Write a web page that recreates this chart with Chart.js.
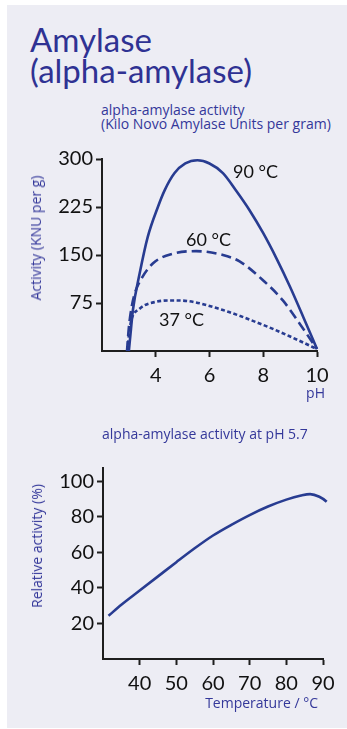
<!DOCTYPE html>
<html>
<head>
<meta charset="utf-8">
<title>Amylase</title>
<script src="https://cdn.jsdelivr.net/npm/chart.js@4.4.1/dist/chart.umd.min.js"></script>
<style>
  body { margin: 0; background: #fff; width: 347px; height: 729px; position: relative; overflow: hidden; font-family: "Open Sans", sans-serif; }
  .panel { position: absolute; left: 7px; top: 5px; width: 340px; height: 723px; background: #ededf4; }
  .txt { position: absolute; white-space: nowrap; color: #34389a; }
  h1 { position: absolute; left: 30px; top: 24px; margin: 0; font-family: Lato, sans-serif; font-weight: 400; font-size: 33px; line-height: 31px; color: #2f3293; }
  .sub { font-size: 14px; line-height: 14px; }
  .ytitle { font-size: 14px; line-height: 14px; transform: translate(-50%, -50%) rotate(-90deg); }
  .curve { font-family: Lato, sans-serif; font-size: 18px; line-height: 18px; color: #111; }
  canvas { position: absolute; left: 0; }
</style>
</head>
<body>
<div class="panel"></div>
<h1>Amylase<br>(alpha-amylase)</h1>
<div class="txt sub" style="left:101px; top:103px;">alpha-amylase activity<br>(Kilo Novo Amylase Units per gram)</div>

<canvas id="phChart" width="347" height="270" style="top:140px"></canvas>
<div class="txt ytitle" style="left:36px; top:238px;">Activity (KNU per g)</div>
<div class="txt sub" style="right:22px; top:386px;">pH</div>
<div class="txt curve" style="left:233px; top:162px;">90 °C</div>
<div class="txt curve" style="left:186px; top:230px;">60 °C</div>
<div class="txt curve" style="left:159px; top:310px;">37 °C</div>

<div class="txt sub" style="left:102px; top:427px;">alpha-amylase activity at pH 5.7</div>
<canvas id="tempChart" width="347" height="319" style="top:410px"></canvas>
<div class="txt ytitle" style="left:37px; top:546px;">Relative activity (%)</div>
<div class="txt sub" style="right:29px; top:696px;">Temperature / °C</div>

<script>
// activity vs pH (KNU per g)
const ph90  = [3.0, 3.08, 3.15, 3.4, 3.7, 4.08, 4.33, 4.7, 5.1, 5.55, 6.0, 6.5, 7.0, 7.49, 8.0, 8.5, 9.0, 9.5, 10.0];
const act90 = [0, 35, 64, 121, 178, 225, 251, 278, 293, 298, 293, 278, 250, 220, 184, 144, 100, 52, 3];

const ph60  = [2.93, 3.0, 3.1, 3.22, 3.4, 3.9, 4.64, 5.5, 6.5, 7.12, 7.98, 8.73, 9.35, 10.0];
const act60 = [0, 37, 68, 90, 108, 137, 152, 156, 150, 140, 111, 79, 43, 3];

const ph37  = [2.95, 3.0, 3.09, 3.4, 4.02, 4.64, 5.2, 6.5, 7.12, 7.74, 8.36, 8.98, 9.5, 10.0];
const act37 = [0, 25, 48, 66, 77, 79, 78, 64, 55, 45, 34.5, 23, 13, 3];

const phTicks  = [4, 6, 8, 10];
const actTicks = [75, 150, 225, 300];

// relative activity vs temperature at pH 5.7
const tempC  = [31.5, 35, 40, 45, 50, 55, 60, 65, 70, 75, 80, 84, 86.5, 89, 91, 92];
const relAct = [24.3, 30.5, 38.5, 46.5, 54.5, 62.3, 69.5, 75.5, 81, 85.8, 89.7, 92, 92.8, 91.3, 88.5, 85.9];

const tempTicks = [40, 50, 60, 70, 80, 90];
const relTicks  = [20, 40, 60, 80, 100];

const blue = '#283c91';
const ink = '#1e1e1e';

function pts(xs, ys) {
  return xs.map((x, i) => ({ x: x, y: ys[i] }));
}

function line(data, dash) {
  return {
    data: data,
    borderColor: blue,
    borderWidth: 2.6,
    borderDash: dash,
    pointRadius: 0,
    cubicInterpolationMode: 'monotone',
    fill: false,
    clip: false
  };
}

function axis(min, max, tickList, extra) {
  return Object.assign({
    type: 'linear',
    min: min,
    max: max,
    afterBuildTicks: s => { s.ticks = tickList.map(v => ({ value: v })); },
    grid: { drawOnChartArea: false, tickLength: 6, tickColor: ink, tickWidth: 2 },
    border: { color: ink, width: 2 },
    ticks: { color: '#111', font: { family: 'Lato', size: 20 }, padding: 3, maxRotation: 0 }
  }, extra);
}

const common = {
  responsive: false,
  animation: false,
  events: [],
  plugins: { legend: { display: false }, tooltip: { enabled: false } }
};

const xTickFont = { color: '#111', font: { family: 'Lato', size: 20 }, padding: 7, maxRotation: 0 };

new Chart(document.getElementById('phChart'), {
  type: 'line',
  data: {
    datasets: [
      line(pts(ph90, act90), []),
      line(pts(ph60, act60), [10, 5]),
      line(pts(ph37, act37), [4, 2.5])
    ]
  },
  options: Object.assign({}, common, {
    layout: { padding: { top: 19, right: 30, bottom: 14, left: 0 } },
    scales: {
      x: axis(2, 10, phTicks, { ticks: xTickFont, afterFit: s => { s.height = 45; } }),
      y: axis(0, 300, actTicks, { afterFit: s => { s.width = 102; } })
    }
  })
});

new Chart(document.getElementById('tempChart'), {
  type: 'line',
  data: {
    datasets: [ line(pts(tempC, relAct), []) ]
  },
  options: Object.assign({}, common, {
    layout: { padding: { top: 58, right: 24, bottom: 25, left: 0 } },
    scales: {
      x: axis(30, 90, tempTicks, { ticks: xTickFont, afterFit: s => { s.height = 45; } }),
      y: axis(0, 107.5, relTicks, { afterFit: s => { s.width = 103; } })
    }
  })
});
</script>
</body>
</html>
